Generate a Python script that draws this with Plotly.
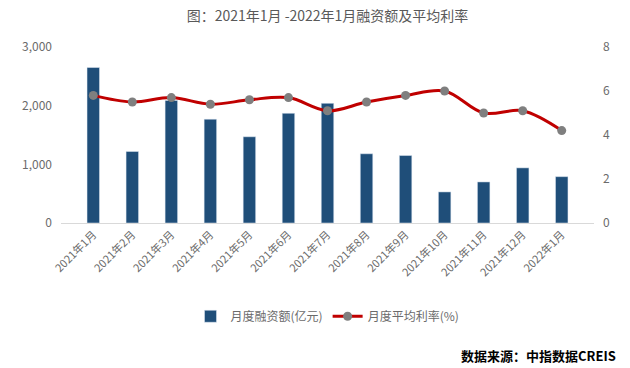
import plotly.graph_objects as go

months = ["2021年1月", "2021年2月", "2021年3月", "2021年4月", "2021年5月", "2021年6月",
          "2021年7月", "2021年8月", "2021年9月", "2021年10月", "2021年11月", "2021年12月", "2022年1月"]
financing = [2650, 1220, 2090, 1770, 1470, 1870, 2040, 1180, 1150, 530, 700, 940, 790]
rate = [5.8, 5.5, 5.7, 5.4, 5.6, 5.7, 5.1, 5.5, 5.8, 6.0, 5.0, 5.1, 4.2]

font_family = "Noto Sans CJK SC, Liberation Sans, sans-serif"
gray = "#6b6b6b"

fig = go.Figure()
fig.add_trace(go.Bar(x=months, y=financing, name="月度融资额(亿元)",
                     marker_color="#1F4E79", width=0.32, yaxis="y"))
fig.add_trace(go.Scatter(x=months, y=rate, name="月度平均利率(%)", yaxis="y2",
                         mode="lines+markers", line=dict(color="#C00000", width=3, shape="spline"),
                         marker=dict(color="#7F7F7F", size=9)))

fig.update_layout(
    width=630, height=368,
    margin=dict(l=61, r=36, t=47, b=145, autoexpand=False),
    paper_bgcolor="white", plot_bgcolor="white",
    font=dict(family=font_family, color=gray, size=12),
    title=dict(text="图：2021年1月 -2022年1月融资额及平均利率", x=0.5, xanchor="center",
               xref="paper", yref="container", y=0.955, yanchor="middle",
               font=dict(size=14, color="#595959")),
    xaxis=dict(tickangle=-45, showgrid=False, showline=True, linecolor="#D9D9D9",
               tickfont=dict(size=11, color=gray), ticks="", automargin=False),
    yaxis=dict(range=[0, 3000], dtick=1000, tickformat=",", showgrid=False, zeroline=False,
               tickfont=dict(size=12, color=gray), ticks="", ticklabelstandoff=8, automargin=False),
    yaxis2=dict(range=[0, 8], dtick=2, overlaying="y", side="right", showgrid=False,
                zeroline=False, tickfont=dict(size=12, color=gray), ticklabelstandoff=8,
                automargin=False),
    legend=dict(orientation="h", x=0.5, xanchor="center", y=-0.53, yanchor="middle",
                font=dict(size=12, color=gray), bgcolor="rgba(0,0,0,0)"),
    showlegend=True,
    bargap=0.6,
)
fig.add_annotation(text="<b>数据来源：中指数据CREIS</b>", xref="paper", yref="paper",
                   x=1.045, y=-0.75, xanchor="right", yanchor="middle", showarrow=False,
                   font=dict(size=13, color="#000000", family=font_family))

fig.write_html("out.html", config={"displayModeBar": False},
               post_script="document.body.style.margin='0';")
